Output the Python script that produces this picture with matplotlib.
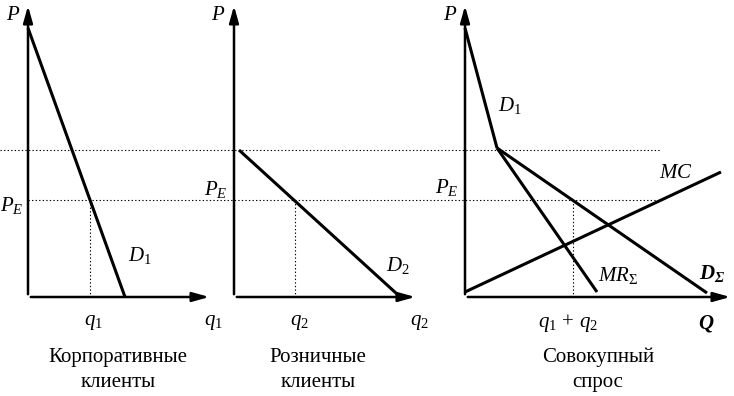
import matplotlib.pyplot as plt

plt.rcParams['font.family'] = ['Liberation Serif', 'DejaVu Serif']
plt.rcParams['mathtext.fontset'] = 'custom'
plt.rcParams['mathtext.rm'] = 'Liberation Serif'
plt.rcParams['mathtext.it'] = 'Liberation Serif:italic'
plt.rcParams['mathtext.bf'] = 'Liberation Serif:bold:italic'

# panel origins (x of P axis), common Q axis level and price levels
origins = [28, 234, 465]
axis_ends = [212, 418, 733]
q_axis_y = 297
p_top = 3
p_kink = 150
p_e = 200

# curves, one list of x and y per line
d1_x = [28, 125]
d1_y = [28, 297]
d2_x = [239, 397]
d2_y = [150, 294]
sum_d1_x = [465, 497]
sum_d1_y = [28, 148]
dsum_x = [497, 707]
dsum_y = [148, 293]
mr_x = [497, 597]
mr_y = [148, 292]
mc_x = [465, 721]
mc_y = [292, 172]
q_marks = [90, 295, 573]

captions = ["Корпоративные\nклиенты", "Розничные\nклиенты", "Совокупный\nспрос"]
caption_x = [118, 318, 598]

fig = plt.figure(figsize=(7.34, 3.96), dpi=100)
ax = fig.add_axes([0, 0, 1, 1])
ax.set_xlim(0, 734)
ax.set_ylim(396, 0)
ax.axis('off')

# axes with arrows
arrow = dict(arrowstyle='-|>,head_length=1.0,head_width=0.28', lw=1.8, color='black')
for x0, x1 in zip(origins, axis_ends):
    ax.annotate('', xy=(x0, p_top), xytext=(x0, q_axis_y), arrowprops=arrow)
    ax.annotate('', xy=(x1, q_axis_y), xytext=(x0, q_axis_y), arrowprops=arrow)

# dotted guides
ax.plot([0, 660], [p_kink, p_kink], ls=(0, (1.2, 2)), lw=0.8, color='black')
ax.plot([28, 660], [p_e, p_e], ls=(0, (1.2, 2)), lw=0.8, color='black')
for qx in q_marks:
    ax.plot([qx, qx], [p_e, q_axis_y], ls=(0, (1.2, 2)), lw=0.8, color='black')

# curves
for xs, ys in [(d1_x, d1_y), (d2_x, d2_y), (sum_d1_x, sum_d1_y),
               (dsum_x, dsum_y), (mr_x, mr_y), (mc_x, mc_y)]:
    ax.plot(xs, ys, color='black', lw=2.2, solid_capstyle='butt')

fs = 15
labels = [
    (13, 15, r'$P$'), (218, 15, r'$P$'), (450, 15, r'$P$'),
    (12, 205, r'$P_E$'), (216, 190, r'$P_E$'), (447, 188, r'$P_E$'),
    (140, 256, r'$D_1$'), (398, 266, r'$D_2$'), (510, 106, r'$D_1$'),
    (676, 173, r'$MC$'), (618, 276, r'$MR_\Sigma$'), (712, 273, r'$\mathbf{D_\Sigma}$'),
    (93, 323, r'$q_1$'), (213, 323, r'$q_1$'),
    (299, 323, r'$q_2$'), (419, 323, r'$q_2$'),
    (568, 323, r'$q_1\,+\,q_2$'), (706, 323, r'$\mathbf{Q}$'),
]
for x, y, s in labels:
    ax.text(x, y, s, fontsize=fs, ha='center', va='center')

for cx, txt in zip(caption_x, captions):
    ax.text(cx, 370, txt, fontsize=15, ha='center', va='center', linespacing=1.45)

fig.savefig('out.png', dpi=100)
